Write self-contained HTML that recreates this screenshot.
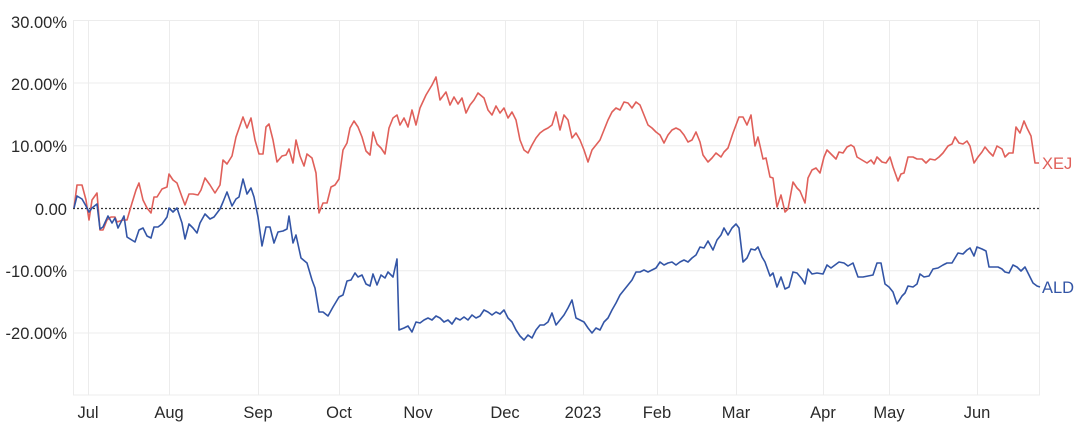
<!DOCTYPE html>
<html><head><meta charset="utf-8"><style>
html,body{margin:0;padding:0;background:#fff;}
svg{display:block;font-family:"Liberation Sans",sans-serif;}
</style></head><body>
<svg width="1086" height="434" viewBox="0 0 1086 434" xmlns="http://www.w3.org/2000/svg">
<g stroke="#ececec" stroke-width="1" fill="none">
<line x1="73" y1="20.5" x2="1040" y2="20.5"/>
<line x1="73" y1="83" x2="1040" y2="83"/>
<line x1="73" y1="145.7" x2="1040" y2="145.7"/>
<line x1="73" y1="270.8" x2="1040" y2="270.8"/>
<line x1="73" y1="333" x2="1040" y2="333"/>
<line x1="73" y1="395" x2="1040" y2="395"/>
<line x1="73.5" y1="20" x2="73.5" y2="395"/>
<line x1="1039.5" y1="20" x2="1039.5" y2="395"/>
<line x1="88.5" y1="20" x2="88.5" y2="395"/>
<line x1="169.5" y1="20" x2="169.5" y2="395"/>
<line x1="258.5" y1="20" x2="258.5" y2="395"/>
<line x1="339.5" y1="20" x2="339.5" y2="395"/>
<line x1="418.5" y1="20" x2="418.5" y2="395"/>
<line x1="505.5" y1="20" x2="505.5" y2="395"/>
<line x1="583.5" y1="20" x2="583.5" y2="395"/>
<line x1="657.5" y1="20" x2="657.5" y2="395"/>
<line x1="736.5" y1="20" x2="736.5" y2="395"/>
<line x1="823.5" y1="20" x2="823.5" y2="395"/>
<line x1="889.5" y1="20" x2="889.5" y2="395"/>
<line x1="977.5" y1="20" x2="977.5" y2="395"/>
</g>
<line x1="73" y1="208.5" x2="1041" y2="208.5" stroke="#333" stroke-width="1.2" stroke-dasharray="2,2"/>
<g fill="#2a2a2a" font-size="16.5" text-anchor="end">
<text x="67" y="28">30.00%</text>
<text x="67" y="90">20.00%</text>
<text x="67" y="152">10.00%</text>
<text x="67" y="215">0.00</text>
<text x="67" y="277">-10.00%</text>
<text x="67" y="339">-20.00%</text>
</g>
<g fill="#2a2a2a" font-size="16.5" text-anchor="middle">
<text x="88" y="418">Jul</text>
<text x="169" y="418">Aug</text>
<text x="258" y="418">Sep</text>
<text x="339" y="418">Oct</text>
<text x="418" y="418">Nov</text>
<text x="505" y="418">Dec</text>
<text x="583" y="418">2023</text>
<text x="657" y="418">Feb</text>
<text x="736" y="418">Mar</text>
<text x="823" y="418">Apr</text>
<text x="889" y="418">May</text>
<text x="977" y="418">Jun</text>
</g>
<polyline fill="none" stroke="#e0605a" stroke-width="1.6" stroke-linejoin="round" points="74,208 77,185 82,185 86,200 89,220 92,200 97,193 100,230 103,230 107,220 111,217 115,217 117,222 123,220 127,220 132,203 136,190 139,183 143,200 147,208 151,213 154,197 157,197 162,189 167,187 169,174 173,180 177,183 182,197 185,205 189,194 193,194 198,195 201,190 205,178 210,185 215,193 220,185 223,160 227,164 232,156 236,137 243,117 247,128 251,118 255,140 259,154 263,154 266,127 269,124 273,140 277,162 282,156 286,155 289,149 293,163 296,140 300,156 304,166 307,154 312,158 316,173 319,213 323,203 327,203 331,187 335,185 339,179 343,150 347,143 350,128 354,121 358,127 362,137 366,151 370,155 373,132 377,144 381,148 385,154 389,128 393,118 397,115 400,125 404,118 408,127 412,110 416,125 420,108 426,95 432,85 436,77 440,100 446,92 450,105 454,97 458,104 462,98 466,113 470,105 474,100 478,93 484,98 488,110 492,115 496,106 500,113 504,108 508,118 512,112 516,120 520,140 524,150 528,153 532,145 536,138 540,133 544,130 548,128 552,125 556,112 560,130 564,115 568,120 572,138 576,133 580,140 584,150 588,162 592,150 596,145 600,140 604,130 608,120 612,112 616,108 620,110 624,102 628,103 632,108 636,102 640,105 644,115 648,125 652,128 656,132 660,135 664,143 668,135 672,130 676,128 680,130 684,135 688,142 692,140 696,132 700,142 703,155 708,162 712,158 716,153 721,157 724,152 728,148 733,133 739,117 743,117 747,125 751,115 755,146 758,137 763,159 766,158 770,177 773,178 777,207 781,195 785,212 788,209 793,182 797,188 800,191 805,203 808,178 812,170 816,168 820,173 824,157 827,150 831,154 836,159 839,152 843,153 847,147 851,145 854,147 857,157 862,160 867,163 871,160 874,164 877,157 882,162 886,163 890,157 893,167 898,181 901,174 904,173 908,157 913,157 917,159 922,159 926,163 930,159 935,160 939,157 943,153 948,146 952,144 955,137 959,143 963,144 967,141 970,146 974,163 978,157 982,152 985,147 989,152 993,156 997,146 1002,149 1005,157 1009,153 1013,153 1016,127 1020,133 1024,121 1027,128 1031,136 1035,163 1039,163"/>
<polyline fill="none" stroke="#3355a6" stroke-width="1.6" stroke-linejoin="round" points="74,208 77,196 82,199 86,206 89,212 92,208 97,204 100,229 103,227 108,216 112,223 115,218 118,228 124,216 127,237 135,242 139,230 143,228 147,236 151,238 154,227 158,227 162,224 167,217 169,208 173,212 177,208 182,223 185,239 189,224 193,228 197,233 200,223 205,214 210,219 214,217 220,209 223,202 227,192 232,206 236,199 239,197 243,179 247,194 251,188 254,197 258,217 262,246 266,227 270,227 274,243 278,232 283,231 287,229 289,216 293,243 296,235 301,258 307,263 312,280 315,288 319,312 323,312 328,316 333,307 339,297 343,295 347,281 351,280 355,273 358,277 362,275 366,284 370,286 373,274 377,285 381,275 385,278 388,272 393,277 397,259 399,330 404,328 408,326 412,332 416,322 420,323 424,320 428,318 432,320 436,316 440,318 444,322 448,320 452,324 456,318 460,320 464,317 468,320 472,315 476,318 480,316 484,310 488,312 492,315 496,312 500,314 504,310 508,318 512,322 516,330 520,336 524,340 528,335 532,338 536,330 540,325 544,325 548,322 552,313 556,325 560,320 564,315 568,308 572,300 576,318 580,320 584,322 588,328 592,333 596,328 600,330 604,322 608,318 612,310 616,303 620,295 624,290 628,285 632,280 636,272 640,272 644,270 648,272 652,270 656,268 660,262 664,265 668,263 672,262 676,265 680,262 684,260 688,262 692,258 696,255 700,247 704,248 708,241 713,250 717,240 721,235 724,228 728,235 732,228 736,224 739,228 743,262 747,258 751,249 755,250 758,247 762,257 765,262 770,276 773,273 777,287 781,277 785,289 789,287 793,272 797,273 802,279 805,284 808,269 812,274 817,273 823,274 827,265 831,268 835,265 839,262 844,263 848,266 853,263 858,277 863,277 868,276 873,275 877,263 881,263 885,284 889,287 893,292 897,304 902,296 905,293 908,286 913,287 917,284 920,274 924,277 929,276 933,269 938,268 943,265 947,263 952,263 955,258 958,253 963,254 967,250 970,248 974,256 977,247 982,249 986,251 989,267 993,267 998,267 1002,269 1005,272 1009,273 1013,265 1017,267 1021,271 1025,267 1029,275 1033,283 1037,286 1040,287"/>
<text x="1042" y="169" fill="#e0605a" font-size="16.5">XEJ</text>
<text x="1042" y="293" fill="#3355a6" font-size="16.5">ALD</text>
</svg>
</body></html>
